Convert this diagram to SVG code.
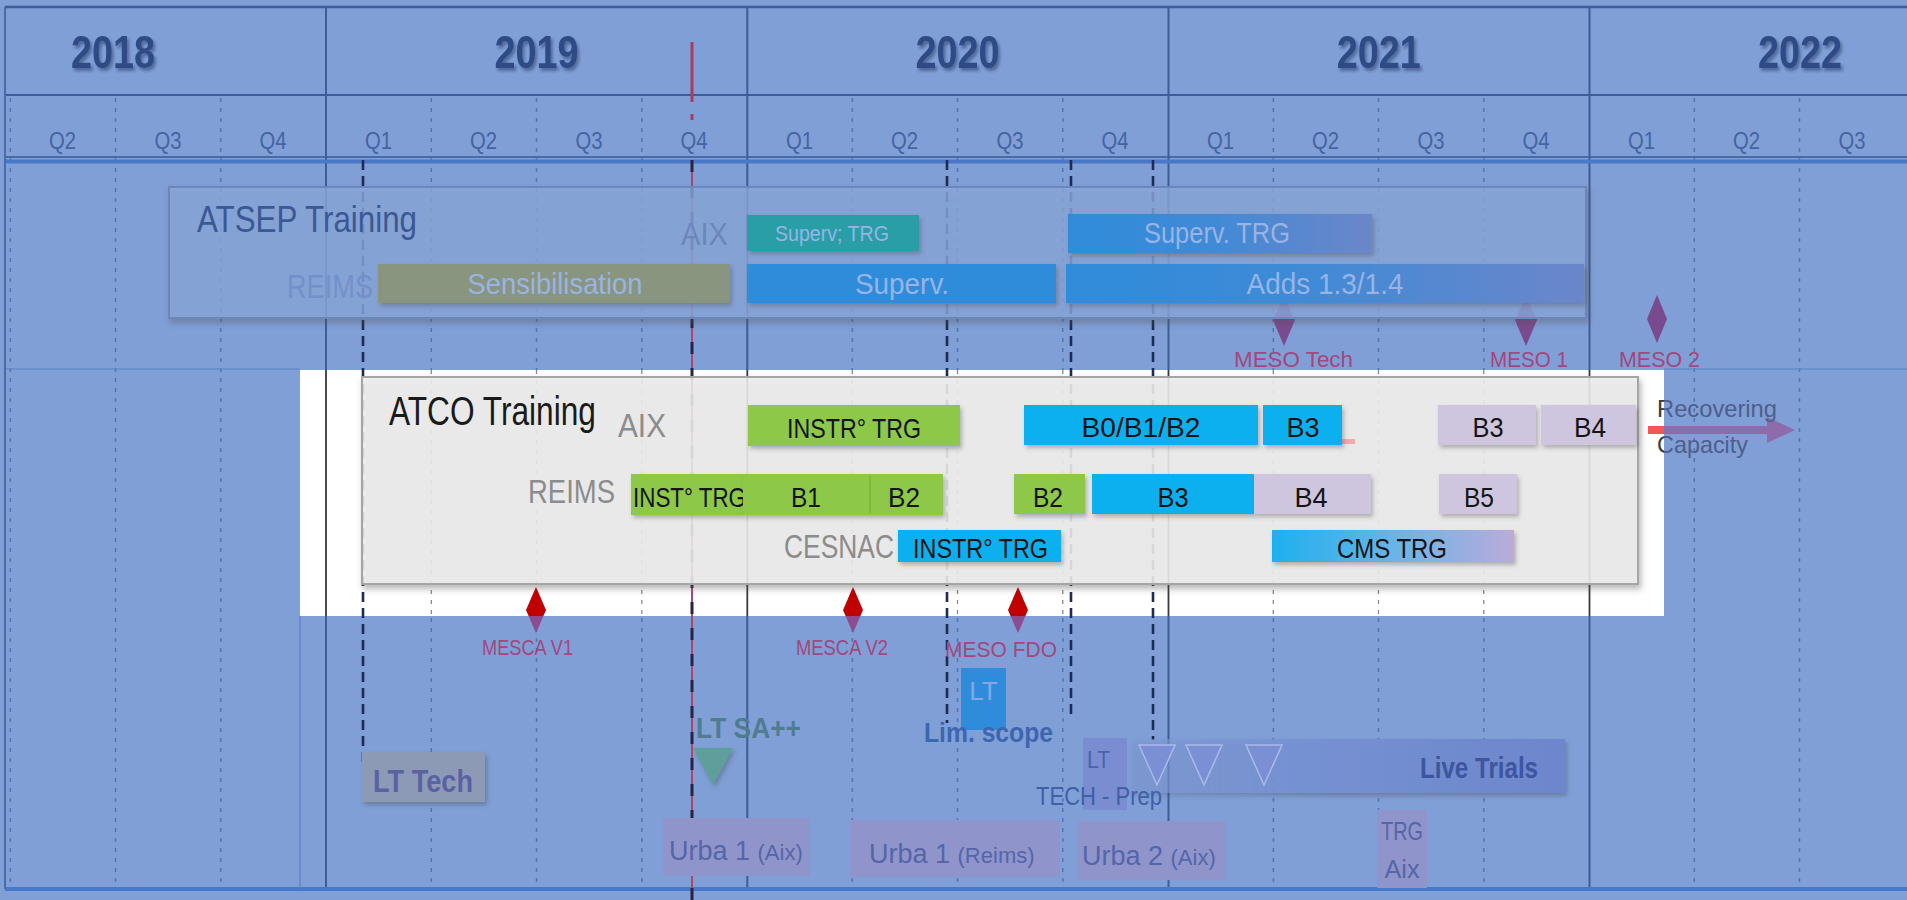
<svg xmlns="http://www.w3.org/2000/svg" width="1907" height="900" viewBox="0 0 1907 900">
<defs>
<style>
text{font-family:"Liberation Sans",Arial,sans-serif}
.yr{font-size:46px;font-weight:bold;fill:#2D4B85;text-anchor:middle;filter:url(#tsh)}
.q{font-size:24px;fill:#4464A2;text-anchor:middle}
.gqB{stroke:#5574B2;stroke-width:1.5;stroke-dasharray:4 6;fill:none}
.gyB{stroke:#3D5C99;stroke-width:2;fill:none}
.gqW{stroke:#8a8a8a;stroke-width:1.3;stroke-dasharray:4 6;fill:none}
.gyW{stroke:#3a3a3a;stroke-width:1.8;fill:none}
.blk{stroke:#1F2A55;stroke-width:2.6;stroke-dasharray:10 6;fill:none}
.sh{filter:url(#sh)}
.bt{font-size:28px;fill:#141414;text-anchor:middle}
.site{fill:#8C8C8C}
.ab{fill:#98B4E6;text-anchor:middle}
.ms{font-size:22px;fill:#A3477D}
.ub{fill:#8F95CB}
.ut{fill:#5466A8}
.tri{fill:#7B8FD4;stroke:#A9BAEA;stroke-width:1.5}
</style>
<filter id="sh" x="-10%" y="-20%" width="125%" height="160%"><feDropShadow dx="2" dy="3" stdDeviation="2" flood-color="#404040" flood-opacity="0.35"/></filter>
<filter id="tsh" x="-10%" y="-20%" width="130%" height="160%"><feDropShadow dx="2" dy="3" stdDeviation="1.5" flood-color="#1a2850" flood-opacity="0.45"/></filter>
<filter id="bsh" x="-5%" y="-10%" width="110%" height="125%"><feDropShadow dx="2" dy="4" stdDeviation="3" flood-color="#505050" flood-opacity="0.45"/></filter>
<clipPath id="cW"><rect x="300" y="370" width="1364" height="246"/></clipPath>
<clipPath id="cB"><path clip-rule="evenodd" d="M0 0H1907V900H0Z M300 370H1664V616H300Z"/></clipPath>
<linearGradient id="gAdd" x1="0" y1="0" x2="1" y2="0"><stop offset="0" stop-color="#2F8CDA"/><stop offset="0.45" stop-color="#3F8AD6"/><stop offset="1" stop-color="#6C86CA"/></linearGradient>
<linearGradient id="gCms" x1="0" y1="0" x2="1" y2="0"><stop offset="0" stop-color="#1EB0EE"/><stop offset="0.55" stop-color="#6FB4E8"/><stop offset="1" stop-color="#BBABD8"/></linearGradient>
<linearGradient id="gLive" x1="0" y1="0" x2="1" y2="0"><stop offset="0" stop-color="#809BD8" stop-opacity="0.5"/><stop offset="0.45" stop-color="#7590D2"/><stop offset="1" stop-color="#6D86CC"/></linearGradient>
</defs>

<rect id="background" x="0" y="0" width="1907" height="900" fill="#7F9FD6"/>
<rect id="highlight" x="300" y="370" width="1364" height="246" fill="#FFFFFF"/>

<g id="grid">
 <g clip-path="url(#cB)">
  <path class="gqB" d="M10.3 98V889M115.5 98V889M220.8 98V889M431.3 98V889M536.5 98V889M641.8 98V889M852.3 98V889M957.5 98V889M1062.8 98V889M1273.3 98V889M1378.5 98V889M1483.8 98V889M1694.3 98V889M1799.5 98V889"/>
  <path class="gyB" d="M326 7V889M747.3 7V889M1168.5 7V889M1589.5 7V889"/>
 </g>
 <g clip-path="url(#cW)">
  <path class="gqW" d="M431.3 370V616M536.5 370V616M641.8 370V616M852.3 370V616M957.5 370V616M1062.8 370V616M1273.3 370V616M1378.5 370V616M1483.8 370V616"/>
  <path class="gyW" d="M326 370V616M747.3 370V616M1168.5 370V616M1589.5 370V616"/>
 </g>
 <path d="M5 7H1907" stroke="#3E5C98" stroke-width="2.5"/>
 <path d="M5 95H1907" stroke="#3E5C98" stroke-width="2"/>
 <path d="M5 157H1907" stroke="#3A5894" stroke-width="1.5"/>
 <path d="M5 161.5H1907" stroke="#4A78C8" stroke-width="4"/>
 <path d="M5 889H1907" stroke="#4A78C8" stroke-width="4"/>
 <path d="M5 7V889" stroke="#4A6AA8" stroke-width="2"/>
 <path d="M6 369H300M1664 369H1907M300 616V889" stroke="#5F80C4" stroke-width="1.2"/>
</g>

<g id="years">
 <text class="yr" x="113" y="68" textLength="84" lengthAdjust="spacingAndGlyphs">2018</text>
 <text class="yr" x="536.5" y="68" textLength="84" lengthAdjust="spacingAndGlyphs">2019</text>
 <text class="yr" x="957.5" y="68" textLength="84" lengthAdjust="spacingAndGlyphs">2020</text>
 <text class="yr" x="1378.8" y="68" textLength="84" lengthAdjust="spacingAndGlyphs">2021</text>
 <text class="yr" x="1800" y="68" textLength="84" lengthAdjust="spacingAndGlyphs">2022</text>
</g>
<g id="quarters">
 <text class="q" x="62.6" y="149" textLength="27" lengthAdjust="spacingAndGlyphs">Q2</text>
 <text class="q" x="167.9" y="149" textLength="27" lengthAdjust="spacingAndGlyphs">Q3</text>
 <text class="q" x="273.1" y="149" textLength="27" lengthAdjust="spacingAndGlyphs">Q4</text>
 <text class="q" x="378.4" y="149" textLength="27" lengthAdjust="spacingAndGlyphs">Q1</text>
 <text class="q" x="483.6" y="149" textLength="27" lengthAdjust="spacingAndGlyphs">Q2</text>
 <text class="q" x="588.9" y="149" textLength="27" lengthAdjust="spacingAndGlyphs">Q3</text>
 <text class="q" x="694.1" y="149" textLength="27" lengthAdjust="spacingAndGlyphs">Q4</text>
 <text class="q" x="799.4" y="149" textLength="27" lengthAdjust="spacingAndGlyphs">Q1</text>
 <text class="q" x="904.6" y="149" textLength="27" lengthAdjust="spacingAndGlyphs">Q2</text>
 <text class="q" x="1009.9" y="149" textLength="27" lengthAdjust="spacingAndGlyphs">Q3</text>
 <text class="q" x="1115.1" y="149" textLength="27" lengthAdjust="spacingAndGlyphs">Q4</text>
 <text class="q" x="1220.4" y="149" textLength="27" lengthAdjust="spacingAndGlyphs">Q1</text>
 <text class="q" x="1325.6" y="149" textLength="27" lengthAdjust="spacingAndGlyphs">Q2</text>
 <text class="q" x="1430.9" y="149" textLength="27" lengthAdjust="spacingAndGlyphs">Q3</text>
 <text class="q" x="1536.1" y="149" textLength="27" lengthAdjust="spacingAndGlyphs">Q4</text>
 <text class="q" x="1641.4" y="149" textLength="27" lengthAdjust="spacingAndGlyphs">Q1</text>
 <text class="q" x="1746.6" y="149" textLength="27" lengthAdjust="spacingAndGlyphs">Q2</text>
 <text class="q" x="1851.9" y="149" textLength="27" lengthAdjust="spacingAndGlyphs">Q3</text>
</g>

<g id="connectors">
 <path class="blk" d="M363 160V767"/>
 <path class="blk" d="M947 160V723"/>
 <path class="blk" d="M1071 160V717"/>
 <path class="blk" d="M1153 160V740"/>
 <path d="M692 42V102M692 114V120" stroke="#A83C62" stroke-width="3"/>
 <path d="M692 160V900" stroke="#B24468" stroke-width="2"/>
 <path d="M692 160V900" stroke="#2A2444" stroke-width="3" stroke-dasharray="12 14"/>
</g>

<g id="meso-milestones">
 <path d="M1284 296L1295 320L1284 346L1273 320Z" fill="#7A4A8E"/>
 <path d="M1526 296L1537 320L1526 346L1515 320Z" fill="#7A4A8E"/>
 <path d="M1657 295L1667 319L1657 343L1647 319Z" fill="#7A4A8E"/>
 <text class="ms" x="1234" y="367" textLength="119" lengthAdjust="spacingAndGlyphs">MESO Tech</text>
 <text class="ms" x="1490" y="367" textLength="78" lengthAdjust="spacingAndGlyphs">MESO 1</text>
 <text class="ms" x="1619" y="367" textLength="81" lengthAdjust="spacingAndGlyphs">MESO 2</text>
</g>

<g id="atsep">
 <rect x="169" y="187" width="1417" height="131" fill="#8BA8DC" fill-opacity="0.75" stroke="#6C86BC" stroke-width="2" filter="url(#bsh)"/>
 <text x="197" y="232" font-size="36" fill="#3B5894" textLength="220" lengthAdjust="spacingAndGlyphs">ATSEP Training</text>
 <text x="681" y="245" font-size="31" fill="#6C86BC" textLength="47" lengthAdjust="spacingAndGlyphs">AIX</text>
 <text x="287" y="298" font-size="34" fill="#7390C9" textLength="86" lengthAdjust="spacingAndGlyphs">REIMS</text>
 <g id="atsep-aix-superv">
  <rect class="sh" x="747" y="215" width="172" height="36" fill="#2A9EA6"/>
  <text class="ab" x="832" y="241" font-size="22" textLength="114" lengthAdjust="spacingAndGlyphs">Superv; TRG</text>
 </g>
 <g id="atsep-aix-supervtrg">
  <rect class="sh" x="1068" y="214" width="304" height="39" fill="url(#gAdd)"/>
  <text class="ab" x="1217" y="243" font-size="30" textLength="146" lengthAdjust="spacingAndGlyphs">Superv. TRG</text>
 </g>
 <g id="atsep-reims-sensib">
  <rect class="sh" x="378" y="264" width="352" height="39" fill="#8A957F"/>
  <text class="ab" x="555" y="294" font-size="30" fill="#93AADB" textLength="175" lengthAdjust="spacingAndGlyphs">Sensibilisation</text>
 </g>
 <g id="atsep-reims-superv">
  <rect class="sh" x="747" y="264" width="309" height="39" fill="#2F8CDA"/>
  <text class="ab" x="902" y="294" font-size="30" textLength="94" lengthAdjust="spacingAndGlyphs">Superv.</text>
 </g>
 <g id="atsep-reims-adds">
  <rect class="sh" x="1066" y="264" width="518" height="39" fill="url(#gAdd)"/>
  <text class="ab" x="1325" y="294" font-size="30" textLength="157" lengthAdjust="spacingAndGlyphs">Adds 1.3/1.4</text>
 </g>
</g>

<g id="atco">
 <rect x="362" y="377" width="1276" height="207" fill="#EDEDED" fill-opacity="0.86" stroke="#A5A5A5" stroke-width="2" filter="url(#bsh)"/>
 <text transform="translate(389 425) scale(0.772 1)" x="0" y="0" font-size="41" fill="#1A1A1A">ATCO Training</text>
 <text class="site" x="618" y="437" font-size="33" textLength="48" lengthAdjust="spacingAndGlyphs">AIX</text>
 <text class="site" x="528" y="503" font-size="34" textLength="87" lengthAdjust="spacingAndGlyphs">REIMS</text>
 <text class="site" x="784" y="558" font-size="33" textLength="110" lengthAdjust="spacingAndGlyphs">CESNAC</text>

 <g id="aix-instr"><rect class="sh" x="748" y="405" width="212" height="41" fill="#8DC84A"/><text class="bt" x="854" y="438" textLength="134" lengthAdjust="spacingAndGlyphs">INSTR° TRG</text></g>
 <g id="aix-b012"><rect class="sh" x="1024" y="405" width="234" height="40" fill="#0BB0EF"/><text class="bt" x="1141" y="437" textLength="119" lengthAdjust="spacingAndGlyphs">B0/B1/B2</text></g>
 <rect x="1342" y="439" width="13" height="5" fill="#F4A8B0"/>
 <g id="aix-b3c"><rect class="sh" x="1263" y="405" width="79" height="40" fill="#0BB0EF"/><text class="bt" x="1303" y="437" textLength="33" lengthAdjust="spacingAndGlyphs">B3</text></g>
 <g id="aix-b3l"><rect class="sh" x="1438" y="405" width="98" height="40" fill="#CEC5DF"/><text class="bt" x="1488" y="437" textLength="31" lengthAdjust="spacingAndGlyphs">B3</text></g>
 <g id="aix-b4l"><rect class="sh" x="1541" y="405" width="95" height="40" fill="#CEC5DF"/><text class="bt" x="1590" y="437" textLength="32" lengthAdjust="spacingAndGlyphs">B4</text></g>

 <g id="reims-inst"><rect class="sh" x="631" y="474" width="112" height="41" fill="#8DC84A"/><text x="633" y="507" font-size="28" fill="#141414" textLength="113" lengthAdjust="spacingAndGlyphs">INST° TRG</text></g>
 <g id="reims-b1b2"><rect class="sh" x="743" y="474" width="200" height="41" fill="#8DC84A"/><path d="M870 476V513" stroke="#7AB23C" stroke-width="1.5"/><text class="bt" x="806" y="507" textLength="30" lengthAdjust="spacingAndGlyphs">B1</text><text class="bt" x="904" y="507" textLength="32" lengthAdjust="spacingAndGlyphs">B2</text></g>
 <g id="reims-b2"><rect class="sh" x="1014" y="474" width="71" height="40" fill="#8DC84A"/><text class="bt" x="1048" y="507" textLength="30" lengthAdjust="spacingAndGlyphs">B2</text></g>
 <g id="reims-b3"><rect class="sh" x="1092" y="474" width="162" height="40" fill="#0BB0EF"/><text class="bt" x="1173" y="507" textLength="31" lengthAdjust="spacingAndGlyphs">B3</text></g>
 <g id="reims-b4"><rect class="sh" x="1254" y="474" width="117" height="40" fill="#CEC5DF"/><text class="bt" x="1311" y="507" textLength="33" lengthAdjust="spacingAndGlyphs">B4</text></g>
 <g id="reims-b5"><rect class="sh" x="1439" y="474" width="78" height="40" fill="#CEC5DF"/><text class="bt" x="1479" y="507" textLength="30" lengthAdjust="spacingAndGlyphs">B5</text></g>

 <g id="cesnac-instr"><rect class="sh" x="898" y="530" width="163" height="32" fill="#0BB0EF"/><text x="913" y="558" font-size="28" fill="#141414" textLength="135" lengthAdjust="spacingAndGlyphs">INSTR° TRG</text></g>
 <g id="cesnac-cms"><rect class="sh" x="1272" y="530" width="242" height="32" fill="url(#gCms)"/><text class="bt" x="1392" y="558" textLength="110" lengthAdjust="spacingAndGlyphs">CMS TRG</text></g>
</g>

<g id="recovering-capacity">
 <path clip-path="url(#cW)" d="M1648 426H1770V434H1648Z" fill="#F05858"/>
 <path clip-path="url(#cB)" d="M1648 426H1767V417L1795 430L1767 443V434H1648Z" fill="#8E6CAC"/>
 <g clip-path="url(#cW)" font-size="24" fill="#3A3A3A"><text x="1657" y="417" textLength="120" lengthAdjust="spacingAndGlyphs">Recovering</text><text x="1657" y="453" textLength="91" lengthAdjust="spacingAndGlyphs">Capacity</text></g>
 <g clip-path="url(#cB)" font-size="24" fill="#4E5E8C"><text x="1657" y="417" textLength="120" lengthAdjust="spacingAndGlyphs">Recovering</text><text x="1657" y="453" textLength="91" lengthAdjust="spacingAndGlyphs">Capacity</text></g>
</g>

<g id="mesca-milestones">
 <g clip-path="url(#cW)" fill="#C00000">
  <path d="M536 587L546 610L536 633L526 610Z"/>
  <path d="M853 587L863 610L853 633L843 610Z"/>
  <path d="M1018 587L1028 610L1018 633L1008 610Z"/>
 </g>
 <g clip-path="url(#cB)" fill="#8C4C90">
  <path d="M536 587L546 610L536 633L526 610Z"/>
  <path d="M853 587L863 610L853 633L843 610Z"/>
  <path d="M1018 587L1028 610L1018 633L1008 610Z"/>
 </g>
 <text class="ms" x="482" y="655" textLength="91" lengthAdjust="spacingAndGlyphs">MESCA V1</text>
 <text class="ms" x="796" y="655" textLength="92" lengthAdjust="spacingAndGlyphs">MESCA V2</text>
 <text class="ms" x="945" y="657" textLength="112" lengthAdjust="spacingAndGlyphs">MESO FDO</text>
</g>

<g id="lt-limscope">
 <rect x="961" y="668" width="45" height="62" fill="#2F8CDA"/>
 <text x="983.5" y="700" font-size="26" fill="#86A8E2" text-anchor="middle">LT</text>
 <text x="924" y="742" font-size="28" font-weight="bold" fill="#3D66B0" textLength="129" lengthAdjust="spacingAndGlyphs">Lim. scope</text>
</g>

<g id="lt-sa">
 <text x="696" y="738" font-size="30" font-weight="bold" fill="#4F7C8E" textLength="105" lengthAdjust="spacingAndGlyphs">LT SA++</text>
 <path class="sh" d="M693 748H733L713 785Z" fill="#5E9F9B"/>
</g>

<g id="lt-tech">
 <rect class="sh" x="362" y="752" width="123" height="50" fill="#8C9AB6"/>
 <text x="373" y="792" font-size="32" font-weight="bold" fill="#5A62A4" textLength="100" lengthAdjust="spacingAndGlyphs">LT Tech</text>
</g>

<g id="live-trials">
 <rect class="sh" x="1130" y="739" width="435" height="54" fill="url(#gLive)"/>
 <text x="1420" y="778" font-size="30" font-weight="bold" fill="#3E55A0" textLength="118" lengthAdjust="spacingAndGlyphs">Live Trials</text>
 <path class="tri" d="M1139 745H1175L1157 785Z"/>
 <path class="tri" d="M1186 745H1222L1204 785Z"/>
 <path class="tri" d="M1246 745H1282L1264 785Z"/>
</g>

<g id="lt-tech-prep">
 <rect x="1083" y="738" width="44" height="72" fill="#7A8DD0"/>
 <text x="1087" y="768" font-size="24" fill="#4A63AA" textLength="23" lengthAdjust="spacingAndGlyphs">LT</text>
 <text x="1036" y="805" font-size="26" fill="#4060A8" textLength="126" lengthAdjust="spacingAndGlyphs">TECH - Prep</text>
</g>

<g id="urba1-aix">
 <rect class="ub" x="663" y="818" width="147" height="58"/>
 <text class="ut" x="669" y="860"><tspan font-size="27">Urba 1 </tspan><tspan font-size="22">(Aix)</tspan></text>
</g>
<g id="urba1-reims">
 <rect class="ub" x="850" y="820" width="210" height="57"/>
 <text class="ut" x="869" y="863"><tspan font-size="27">Urba 1 </tspan><tspan font-size="22">(Reims)</tspan></text>
</g>
<g id="urba2-aix">
 <rect class="ub" x="1078" y="821" width="148" height="59"/>
 <text class="ut" x="1082" y="865"><tspan font-size="27">Urba 2 </tspan><tspan font-size="22">(Aix)</tspan></text>
</g>
<g id="trg-aix">
 <rect class="ub" x="1377" y="810" width="50" height="78"/>
 <text class="ut" x="1402" y="840" font-size="25" text-anchor="middle" textLength="42" lengthAdjust="spacingAndGlyphs">TRG</text>
 <text class="ut" x="1402" y="878" font-size="25" text-anchor="middle" textLength="35" lengthAdjust="spacingAndGlyphs">Aix</text>
</g>
</svg>
